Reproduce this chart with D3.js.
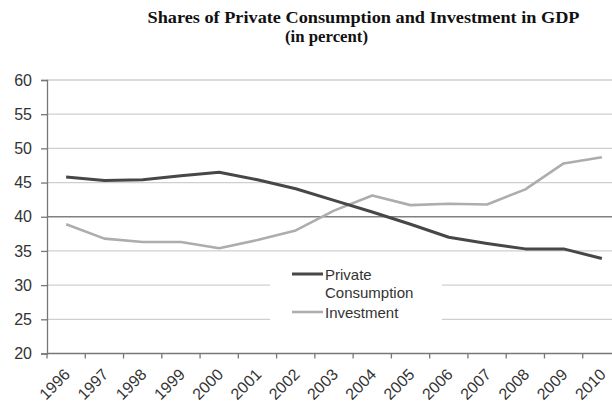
<!DOCTYPE html>
<html>
<head>
<meta charset="utf-8">
<script src="https://cdn.jsdelivr.net/npm/d3@7"></script>
<style>
  html, body { margin: 0; padding: 0; background: #fff; }
  svg { display: block; }
</style>
</head>
<body>
<svg id="chart" width="612" height="405"></svg>
<script>
// Shares of GDP, 1996-2010 (percent)
const years = ["1996","1997","1998","1999","2000","2001","2002","2003","2004","2005","2006","2007","2008","2009","2010"];
const privateConsumption = [45.8, 45.3, 45.4, 46.0, 46.5, 45.4, 44.1, 42.4, 40.7, 38.9, 37.0, 36.1, 35.3, 35.3, 33.9];
const investment = [38.9, 36.8, 36.3, 36.3, 35.4, 36.6, 38.0, 40.9, 43.1, 41.7, 41.9, 41.8, 44.0, 47.8, 48.7];
const yTicks = [20, 25, 30, 35, 40, 45, 50, 55, 60];
const seriesNames = ["Private Consumption", "Investment"];

const svg = d3.select("#chart");
const plotLeft = 47, plotRight = 621, plotTop = 80, plotBottom = 353.5;

const x = d3.scaleBand().domain(years).range([plotLeft, plotRight]).padding(0);
const y = d3.scaleLinear().domain([20, 60]).range([plotBottom, plotTop]);

// Title
const titleFont = "'Liberation Serif', 'Times New Roman', serif";
svg.append("text")
  .attr("x", 147.5).attr("y", 22.5)
  .attr("textLength", 432).attr("lengthAdjust", "spacingAndGlyphs")
  .style("font-family", titleFont)
  .style("font-weight", "bold").style("font-size", "17px").style("fill", "#111")
  .text("Shares of Private Consumption and Investment in GDP");
svg.append("text")
  .attr("x", 285).attr("y", 42)
  .attr("textLength", 83).attr("lengthAdjust", "spacingAndGlyphs")
  .style("font-family", titleFont)
  .style("font-weight", "bold").style("font-size", "17px").style("fill", "#111")
  .text("(in percent)");

// Horizontal gridlines
svg.append("g").selectAll("line")
  .data(yTicks.filter(d => d > 20))
  .join("line")
  .attr("x1", plotLeft).attr("x2", 612)
  .attr("y1", d => y(d)).attr("y2", d => y(d))
  .attr("stroke", d => d === 40 ? "#808080" : "#cfcfcf")
  .attr("stroke-width", 1.3);

// Y axis
const yAxis = svg.append("g")
  .attr("transform", `translate(${plotLeft},0)`)
  .call(d3.axisLeft(y).tickValues(yTicks).tickSize(6).tickPadding(9));
yAxis.select(".domain").attr("stroke", "#777").attr("stroke-width", 1.3);
yAxis.selectAll(".tick line").attr("stroke", "#777").attr("stroke-width", 1.3);
yAxis.selectAll(".tick text")
  .style("font-family", "'Liberation Sans', Arial, sans-serif")
  .style("font-size", "16px").style("fill", "#333");

// X axis line and tick marks at category boundaries
svg.append("line")
  .attr("x1", plotLeft).attr("x2", 612)
  .attr("y1", plotBottom).attr("y2", plotBottom)
  .attr("stroke", "#777").attr("stroke-width", 1.3);
svg.append("g").selectAll("line")
  .data(years)
  .join("line")
  .attr("x1", d => x(d)).attr("x2", d => x(d))
  .attr("y1", plotBottom).attr("y2", plotBottom + 5)
  .attr("stroke", "#777").attr("stroke-width", 1.3);

// Year labels, rotated
const xAxis = svg.append("g")
  .attr("transform", `translate(0,${plotBottom})`)
  .call(d3.axisBottom(x).tickSize(0).tickPadding(0));
xAxis.select(".domain").remove();
xAxis.selectAll(".tick text")
  .attr("text-anchor", "end")
  .attr("y", 0).attr("dy", 0)
  .attr("transform", "translate(5,22) rotate(-45)")
  .style("font-family", "'Liberation Sans', Arial, sans-serif")
  .style("font-size", "16px").style("fill", "#333");

// Legend background hides the gridlines behind it
svg.append("rect")
  .attr("x", 270).attr("y", 262).attr("width", 172).attr("height", 66)
  .attr("fill", "#fff");

// Series lines
const cx = d => x(d) + x.bandwidth() / 2;
const line = d3.line().x((d, i) => cx(years[i])).y(d => y(d));

svg.append("path")
  .datum(investment)
  .attr("d", line)
  .attr("fill", "none")
  .attr("stroke", "#adadad").attr("stroke-width", 2.6)
  .attr("stroke-linejoin", "round");

svg.append("path")
  .datum(privateConsumption)
  .attr("d", line)
  .attr("fill", "none")
  .attr("stroke", "#474747").attr("stroke-width", 3)
  .attr("stroke-linejoin", "round");

// Legend
const legend = svg.append("g")
  .style("font-family", "'Liberation Sans', Arial, sans-serif")
  .style("font-size", "15px").style("fill", "#333");
legend.append("line")
  .attr("x1", 292).attr("x2", 323).attr("y1", 274).attr("y2", 274)
  .attr("stroke", "#474747").attr("stroke-width", 3);
legend.append("text").attr("x", 325).attr("y", 280).text("Private");
legend.append("text").attr("x", 325).attr("y", 298).text("Consumption");
legend.append("line")
  .attr("x1", 292).attr("x2", 323).attr("y1", 312).attr("y2", 312)
  .attr("stroke", "#adadad").attr("stroke-width", 2.6);
legend.append("text").attr("x", 325).attr("y", 318).text("Investment");
</script>
</body>
</html>
